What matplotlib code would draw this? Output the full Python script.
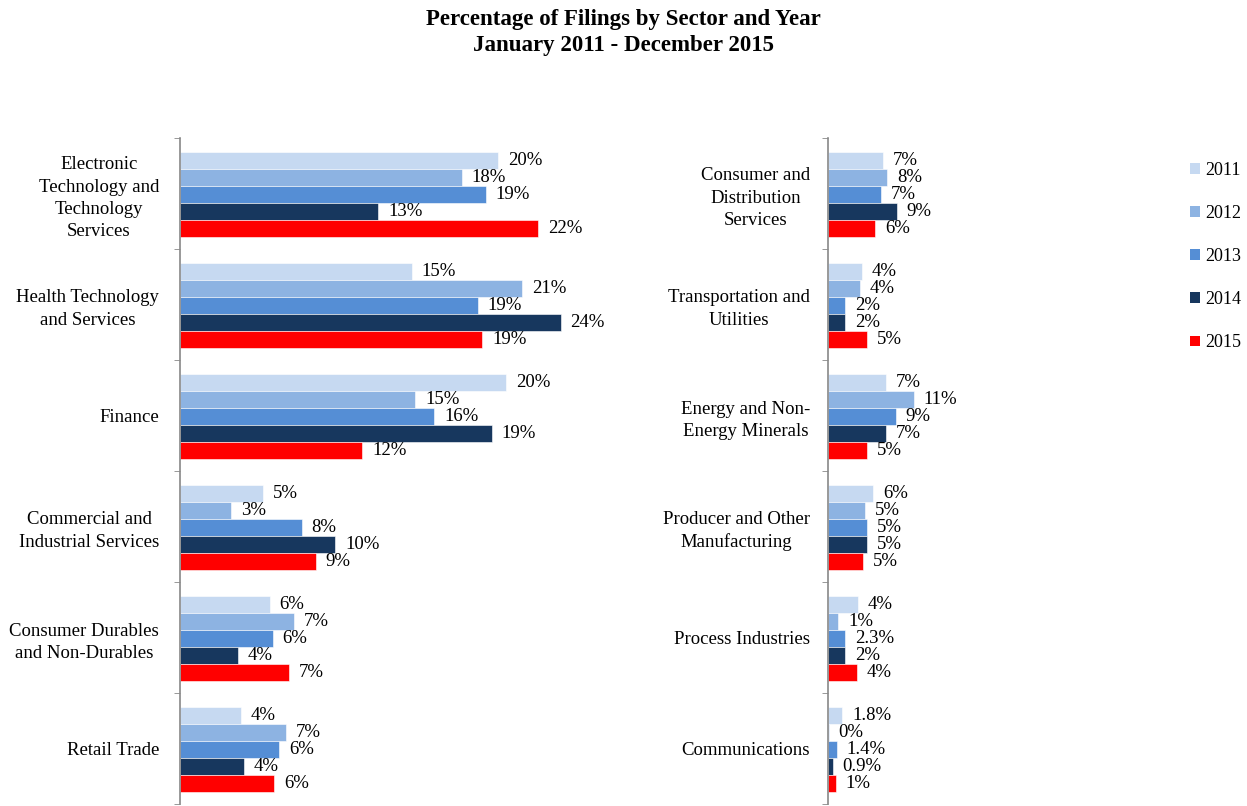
import numpy as np
import matplotlib.pyplot as plt
from matplotlib.patches import Patch
from matplotlib.ticker import FixedLocator

plt.rcParams['font.family'] = ['Liberation Serif', 'DejaVu Serif']

years = ['2011', '2012', '2013', '2014', '2015']
colors = ['#c6d9f1', '#8db3e2', '#558ed5', '#17375e', '#ff0000']

# left panel
left_sectors = ['Electronic\nTechnology and\nTechnology\nServices',
                'Health Technology\nand Services',
                'Finance',
                'Commercial and\nIndustrial Services',
                'Consumer Durables\nand Non-Durables',
                'Retail Trade']
left_vals = [
    [19.9, 14.5, 20.4, 5.2, 5.6, 3.8],   # 2011
    [17.6, 21.4, 14.7, 3.2, 7.1, 6.6],   # 2012
    [19.1, 18.6, 15.9, 7.6, 5.8, 6.2],   # 2013
    [12.4, 23.8, 19.5, 9.7, 3.6, 4.0],   # 2014
    [22.4, 18.9, 11.4, 8.5, 6.8, 5.9],   # 2015
]
left_labels = [
    ['20%', '15%', '20%', '5%', '6%', '4%'],
    ['18%', '21%', '15%', '3%', '7%', '7%'],
    ['19%', '19%', '16%', '8%', '6%', '6%'],
    ['13%', '24%', '19%', '10%', '4%', '4%'],
    ['22%', '19%', '12%', '9%', '7%', '6%'],
]

# right panel
right_sectors = ['Consumer and\nDistribution\nServices',
                 'Transportation and\nUtilities',
                 'Energy and Non-\nEnergy Minerals',
                 'Producer and Other\nManufacturing',
                 'Process Industries',
                 'Communications']
right_vals = [
    [7.0, 4.3, 7.3, 5.7, 3.8, 1.8],
    [7.5, 4.1, 10.9, 4.7, 1.3, 0.1],
    [6.7, 2.2, 8.6, 4.9, 2.2, 1.1],
    [8.7, 2.2, 7.3, 4.9, 2.2, 0.6],
    [6.0, 4.9, 4.9, 4.4, 3.7, 1.0],
]
right_labels = [
    ['7%', '4%', '7%', '6%', '4%', '1.8%'],
    ['8%', '4%', '11%', '5%', '1%', '0%'],
    ['7%', '2%', '9%', '5%', '2.3%', '1.4%'],
    ['9%', '2%', '7%', '5%', '2%', '0.9%'],
    ['6%', '5%', '5%', '5%', '4%', '1%'],
]

fig = plt.figure(figsize=(12.47, 8.06), dpi=100)
fig.text(0.5, 1 - 19 / 806, 'Percentage of Filings by Sector and Year',
         ha='center', va='center', fontsize=16.5, fontweight='bold')
fig.text(0.5, 1 - 46 / 806, 'January 2011 - December 2015',
         ha='center', va='center', fontsize=16.5, fontweight='bold')

bar_h = 17 / 111


def draw_panel(ax, sectors, vals, labels, pad):
    y = np.arange(len(sectors))
    for j in range(len(years)):
        yy = y + (j - 2) * bar_h + 0.01
        ax.barh(yy, vals[j], height=bar_h, color=colors[j], edgecolor='white',
                linewidth=0.4)
        for k in range(len(sectors)):
            ax.annotate(labels[j][k], (vals[j][k], yy[k]), xytext=(7, 0),
                        textcoords='offset points', va='center', ha='left',
                        fontsize=13.5)
    ax.set_ylim(5.5, -0.5)
    ax.set_xlim(0, 30)
    ax.set_yticks(y)
    ax.set_yticklabels(sectors, fontsize=13.5, multialignment='center',
                       linespacing=1.4)
    ax.yaxis.set_minor_locator(FixedLocator(np.arange(-0.5, 5.6, 1)))
    ax.tick_params(axis='y', which='major', length=0, pad=pad)
    ax.tick_params(axis='y', which='minor', length=4, color='#888888')
    ax.set_xticks([])
    for s in ['top', 'right', 'bottom']:
        ax.spines[s].set_visible(False)
    ax.spines['left'].set_color('#888888')
    ax.spines['left'].set_linewidth(1.2)


ax1 = fig.add_axes([180 / 1247, 2 / 806, 480 / 1247, 666 / 806])
draw_panel(ax1, left_sectors, left_vals, left_labels, 15)

ax2 = fig.add_axes([828 / 1247, 2 / 806, 237 / 1247, 666 / 806])
draw_panel(ax2, right_sectors, right_vals, right_labels, 13)

handles = [Patch(facecolor=c, label=y) for c, y in zip(colors, years)]
fig.legend(handles=handles, loc='upper left', bbox_to_anchor=(1177 / 1247, 1 - 149 / 806),
           frameon=False, fontsize=13, handlelength=0.55, handleheight=0.55,
           handletextpad=0.3, labelspacing=1.45, borderpad=0.2)

plt.savefig('out.png', dpi=100)
